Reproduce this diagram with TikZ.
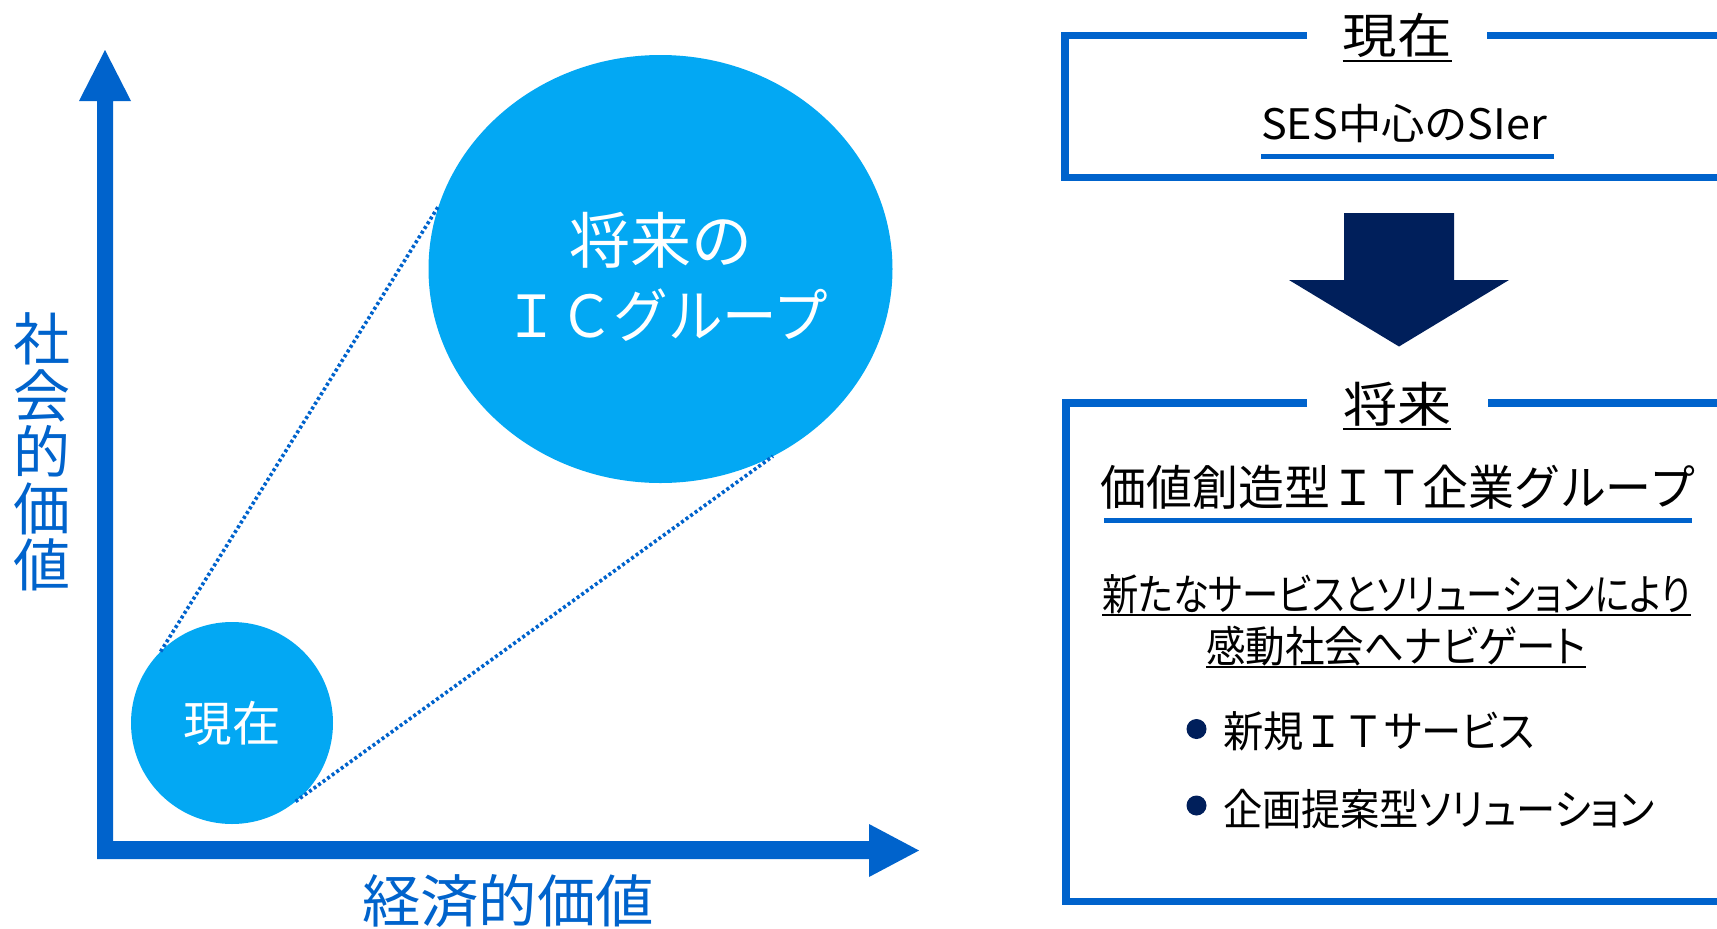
\documentclass[tikz,border=0pt]{standalone}
\usepackage{fontspec}
\setmainfont{Noto Sans CJK JP}
\newfontfamily\jpp{Noto Sans CJK JP}[RawFeature=+palt]
\usepackage{graphicx}
\usetikzlibrary{shapes.geometric}
\definecolor{axisblue}{RGB}{0,99,204}
\definecolor{circblue}{RGB}{3,168,243}
\definecolor{navyc}{RGB}{0,31,91}
\newcommand{\fitw}[2]{\resizebox{#1}{\height}{#2}}
\newcommand{\fsz}[1]{\fontsize{#1}{#1}\selectfont}
\begin{document}
\begin{tikzpicture}[x=1pt,y=-1pt,
  txt/.style={inner sep=0pt, outer sep=0pt, anchor=center},
  frame/.style={draw=axisblue, line width=7.5pt, line join=miter},
  blueline/.style={draw=axisblue, line width=5pt},
  blackline/.style={draw=black, line width=2pt},
  dotline/.style={draw=axisblue, line width=3.6pt, dash pattern=on 3pt off 2.6pt}]
\useasboundingbox (0,0) rectangle (1717,929);
\clip (0,0) rectangle (1717,929);
\fill[white] (0,0) rectangle (1717,929);

% axes
\fill[axisblue] (97,101) -- (79,101) -- (105,50) -- (131,101) -- (113,101)
  -- (113,841) -- (869,841) -- (869,824) -- (919,850.5) -- (869,877)
  -- (869,859) -- (97,859) -- cycle;
\node[txt, text=axisblue, align=center, font=\fontsize{57}{56.5}\selectfont] (ylab) at (42,452)
  {社\\会\\的\\価\\値};
\node[txt, text=axisblue, font=\fsz{57}] (xlab) at (508,901) {\fitw{292pt}{経済的価値}};

% circles
\node[circle, fill=circblue, minimum size=202pt, inner sep=0pt, outer sep=0pt,
  text=white, font=\fsz{48}] (now) at (232,723) {\fitw{97pt}{現在}};
\node[ellipse, fill=circblue, minimum width=464pt, minimum height=428pt, inner sep=0pt, outer sep=0pt] (fut) at (660.5,269) {};
\node[txt, text=white, font=\fsz{61}] (f1) at (661,240) {将来の};
\node[txt, text=white, font=\fsz{58}] (f2) at (666.5,315) {\fitw{324pt}{ＩＣグループ}};
\draw[dotline] (now.135.8) -- (fut.164);
\draw[dotline] (now.-51.6) -- (fut.-59.8);

% top box
\draw[frame] (1307,35.5) -- (1065,35.5) -- (1065,177.5) -- (1740,177.5);
\draw[frame] (1487,35.5) -- (1740,35.5);
\node[txt, font=\fsz{48}] (t1) at (1397,35) {\fitw{109pt}{現在}};
\draw[blackline] (t1.west |- 0,61) -- (t1.east |- 0,61);
\node[txt, font=\fsz{42}] (ses) at (1404,124) {\fitw{286pt}{SES中心のSIer}};
\draw[blueline] (1261,156) -- (1554,156);

% arrow
\fill[navyc] (1344,213) -- (1454,213) -- (1454,280) -- (1509,280) -- (1399,346.5)
  -- (1289,280) -- (1344,280) -- cycle;

% bottom box
\draw[frame] (1307,403) -- (1066,403) -- (1066,901.5) -- (1740,901.5);
\draw[frame] (1488,403) -- (1740,403);
\node[txt, font=\fsz{48}] (t2) at (1397,404) {\fitw{108pt}{将来}};
\draw[blackline] (t2.west |- 0,429) -- (t2.east |- 0,429);
\node[txt, font=\fsz{48}] (vc) at (1398,487) {\fitw{594pt}{価値創造型ＩＴ企業グループ}};
\draw[blueline] (1104,520.5) -- (1692,520.5);
\node[txt, font=\fsz{43}] (l1) at (1396.5,594) {\fitw{589pt}{\jpp 新たなサービスとソリューションにより}};
\draw[blackline] (l1.west |- 0,615) -- (l1.east |- 0,615);
\node[txt, font=\fsz{43}] (l2) at (1396,646) {\fitw{380pt}{\jpp 感動社会へナビゲート}};
\draw[blackline] (l2.west |- 0,667) -- (l2.east |- 0,667);

% bullets
\fill[navyc] (1196.5,729) circle (10pt);
\fill[navyc] (1196.5,805.5) circle (10pt);
\node[txt, anchor=west, font=\fsz{43}] (b1) at (1223,731) {\fitw{312pt}{新規ＩＴ{\jpp サービス}}};
\node[txt, anchor=west, font=\fsz{43}] (b2) at (1223,809) {\fitw{432pt}{\jpp 企画提案型ソリューション}};
\end{tikzpicture}
\end{document}
